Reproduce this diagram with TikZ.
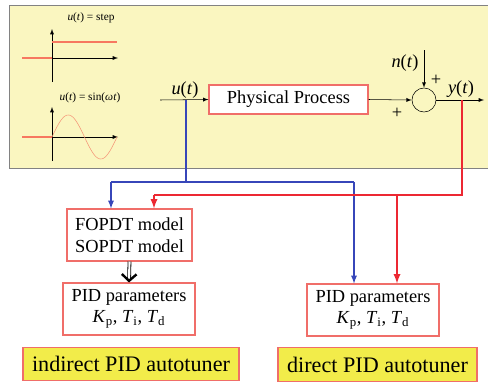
\documentclass[tikz,border=0pt]{standalone}
\usepackage{fontspec}
\setmainfont{Liberation Serif}
\usepackage{xcolor}
\usepackage{tikz}
\usetikzlibrary{arrows,arrows.meta,calc,positioning}

\definecolor{panelyellow}{RGB}{250,246,192}
\definecolor{panelgray}{RGB}{130,130,130}
\definecolor{boxred}{RGB}{240,110,105}
\definecolor{tunerfill}{RGB}{242,236,74}
\definecolor{sigblue}{RGB}{55,70,185}
\definecolor{sigred}{RGB}{236,40,50}
\definecolor{sinecol}{RGB}{245,150,120}

\newcommand{\va}[1]{\textit{#1}}
\newcommand{\bigtxt}{\fontsize{13.8}{16.5}\selectfont}

\begin{document}
\begin{tikzpicture}[x=0.75pt,y=-0.75pt,
	blk/.style={draw=boxred,thick,fill=white,align=center,inner sep=0pt,font=\bigtxt},
	tuner/.style={draw=boxred,thick,fill=tunerfill,inner sep=0pt,font=\fontsize{16.6}{19}\selectfont},
	ax/.style={-latex,thin,black},
	sig/.style={-latex,thin,black}]
	\useasboundingbox (0,0) rectangle (488,382);
	% input signals panel
	\fill[panelyellow,draw=panelgray] (9,5) rectangle (495,168);
	\node (ttlstep) at (91,18) {\fontsize{8.5}{9}\selectfont \va{u}(\va{t}) = step};
	\draw[ax] (52,82) -- (52,29);
	\draw[ax] (52,58) -- (118,58);
	\draw[sinecol!80!red,thick] (22,58) -- (52,58);
	\draw[sinecol!80!red,thick] (52,42) -- (117,42);
	\node (ttlsin) at (90,98) {\fontsize{8.5}{9}\selectfont \va{u}(\va{t}) = sin(\va{ω}\va{t})};
	\draw[ax] (52,161) -- (52,107);
	\draw[ax] (52,137) -- (118,137);
	\draw[sinecol!80!red,thick] (22,137) -- (52,137);
	\draw[sinecol,domain=0:65,samples=60,smooth] plot ({52+\x},{137-22*sin(\x/65*360)});
	% process loop
	\node[blk,minimum width=119.25pt,minimum height=21.75pt] (proc) at (288.5,99.5) {Physical Process};
	\node[draw,circle,thin,minimum size=18pt,inner sep=0pt] (sum) at (424,100) {};
	\coordinate (uin) at (160,100);
	\coordinate (utap) at (186,100);
	\coordinate (ntop) at (424,50);
	\coordinate (yout) at (484,100);
	\coordinate (ytap) at (462,100);
	\draw[sig] (uin) -- (proc.west);
	\draw[sig] (proc.east) -- (sum.west);
	\draw[sig] (ntop) -- (sum.north);
	\draw[sig] (sum.east) -- (yout);
	\node[font=\bigtxt] (ulab) at (185,90) {\va{u}(\va{t})};
	\node[font=\bigtxt] (nlab) at (405,63) {\va{n}(\va{t})};
	\node[font=\bigtxt] (ylab) at (461,89) {\va{y}(\va{t})};
	\node[font=\bigtxt] (plusa) at (397,113) {+};
	\node[font=\bigtxt] (plusb) at (436,80) {+};
	% identification and tuning blocks
	\node[blk,minimum width=93.75pt,minimum height=39pt] (fopdt) at (129.5,235) {FOPDT model\\SOPDT model};
	\node[blk,minimum width=99pt,minimum height=39pt] (pidl) at (129,309) {PID parameters\\[-1pt]\va{K}\textsubscript{p}, \va{T}\textsubscript{i}, \va{T}\textsubscript{d}};
	\node[blk,minimum width=99pt,minimum height=39pt] (pidr) at (373,310) {PID parameters\\[-1pt]\va{K}\textsubscript{p}, \va{T}\textsubscript{i}, \va{T}\textsubscript{d}};
	\node[tuner,minimum width=162pt,minimum height=25pt] (indir) at (131,364) {indirect PID autotuner};
	\node[tuner,minimum width=149.25pt,minimum height=25pt] (dir) at (377.5,364.5) {direct PID autotuner};
	\draw[line width=0.6pt,double distance=1.6pt,-{Straight Barb[length=5pt,width=11pt,line width=1.8pt]}] (fopdt.south) -- (pidl.north);
	% blue branch: u(t)
	\coordinate (bl) at (111,182);
	\coordinate (br) at (354,182);
	\draw[sigblue,line width=1pt] (utap) |- (bl);
	\draw[sigblue,line width=1pt] (utap |- bl) -- (br);
	\draw[sigblue,line width=1pt,-latex] (bl) -- (bl |- fopdt.north);
	\draw[sigblue,line width=1pt,-latex] (br) -- (br |- pidr.north);
	% red branch: y(t)
	\coordinate (rl) at (154,195);
	\coordinate (rr) at (397,195);
	\draw[sigred,line width=1.4pt] (ytap) |- (rl);
	\draw[sigred,line width=1.4pt,-latex] (rl) -- (rl |- fopdt.north);
	\draw[sigred,line width=1.4pt,-latex] (rr) -- (rr |- pidr.north);
\end{tikzpicture}
\end{document}
